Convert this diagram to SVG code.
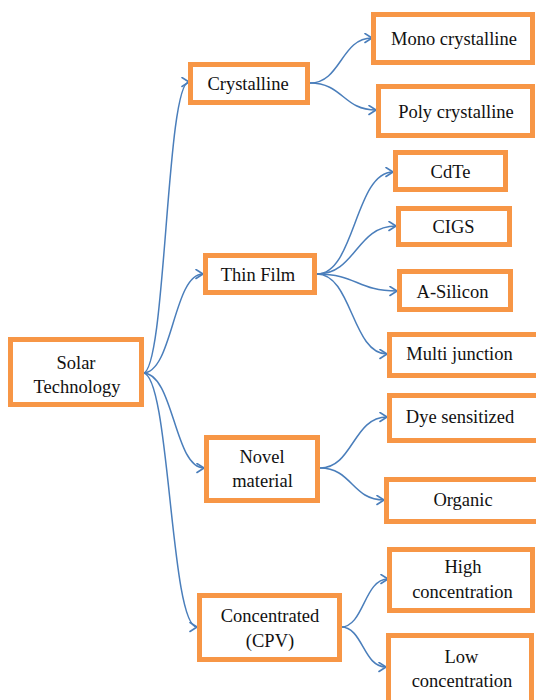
<svg xmlns="http://www.w3.org/2000/svg" width="536" height="700" viewBox="0 0 536 700">
<defs>
<marker id="arr" markerUnits="userSpaceOnUse" markerWidth="12" markerHeight="12" refX="8" refY="5" orient="auto" viewBox="0 0 12 12">
<path d="M1,0.5 L8,5 L1,9.5" fill="none" stroke="#4a7ebb" stroke-width="1.6" stroke-linecap="round" stroke-linejoin="round"/>
</marker>
</defs>
<style>
.box{fill:#ffffff;stroke:#f79646;stroke-width:5}
.t{font-family:'Liberation Serif','DejaVu Serif',serif;font-size:18.5px;fill:#111111;text-anchor:middle}
.c{fill:none;stroke:#4a7ebb;stroke-width:1.5;marker-end:url(#arr)}
</style>
<rect width="536" height="700" fill="#ffffff"/>
<g id="connectors">
<path class="c" d="M143,373 C166,373 166,82 189,82"/>
<path class="c" d="M143,373 C173,373 173,274 203,274"/>
<path class="c" d="M143,373 C174,373 174,468 204,468"/>
<path class="c" d="M143,373 C170,373 170,627 197,627"/>
<path class="c" d="M310,83 C341,83 341,38 372,38"/>
<path class="c" d="M310,83 C343,83 343,110 376,110"/>
<path class="c" d="M317,274 C355,274 355,172 393,172"/>
<path class="c" d="M317,274 C356,274 356,226 396,226"/>
<path class="c" d="M317,274 C357,274 357,291 397,291"/>
<path class="c" d="M317,274 C352,274 352,354 387,354"/>
<path class="c" d="M320,468 C353,468 353,417 387,417"/>
<path class="c" d="M320,468 C352,468 352,500 384,500"/>
<path class="c" d="M341,627 C364,627 364,579 388,579"/>
<path class="c" d="M341,627 C363,627 363,667 386,667"/>
</g>
<g id="solar" font-family="Liberation Serif, serif"><rect class="box" x="10.5" y="339.5" width="131" height="65"/><text class="t" x="76" y="369">Solar</text><text class="t" x="77" y="393">Technology</text></g>
<g id="crystalline"><rect class="box" x="190.5" y="64.5" width="117" height="38"/><text class="t" x="248" y="90">Crystalline</text></g>
<g id="mono"><rect class="box" x="373.5" y="14.5" width="159" height="48"/><text class="t" x="454" y="45">Mono crystalline</text></g>
<g id="poly"><rect class="box" x="378.5" y="86.5" width="154" height="49"/><text class="t" x="456" y="118">Poly crystalline</text></g>
<g id="thinfilm"><rect class="box" x="205.5" y="255.5" width="109" height="37"/><text class="t" x="258" y="281">Thin Film</text></g>
<g id="cdte"><rect class="box" x="395.5" y="152.5" width="110" height="37"/><text class="t" x="450.5" y="178">CdTe</text></g>
<g id="cigs"><rect class="box" x="398.5" y="208.5" width="111" height="36"/><text class="t" x="453.5" y="233">CIGS</text></g>
<g id="asilicon"><rect class="box" x="399.5" y="271.5" width="111" height="38"/><text class="t" x="452.5" y="298">A-Silicon</text></g>
<g id="multi"><rect class="box" x="389.5" y="334.5" width="155" height="41"/><text class="t" x="459.5" y="360">Multi junction</text></g>
<g id="novel"><rect class="box" x="206.5" y="437.5" width="111" height="63"/><text class="t" x="262" y="463">Novel</text><text class="t" x="262.5" y="487">material</text></g>
<g id="dye"><rect class="box" x="389.5" y="395.5" width="155" height="45"/><text class="t" x="460" y="423">Dye sensitized</text></g>
<g id="organic"><rect class="box" x="386.5" y="479.5" width="158" height="42"/><text class="t" x="463" y="506">Organic</text></g>
<g id="concentrated"><rect class="box" x="199.5" y="595.5" width="140" height="64"/><text class="t" x="270" y="622">Concentrated</text><text class="t" x="270" y="647">(CPV)</text></g>
<g id="high"><rect class="box" x="389.5" y="549.5" width="143" height="61"/><text class="t" x="463" y="573">High</text><text class="t" x="462.5" y="598">concentration</text></g>
<g id="low"><rect class="box" x="388.5" y="635.5" width="143" height="72"/><text class="t" x="461.5" y="663">Low</text><text class="t" x="462" y="687">concentration</text></g>
</svg>
